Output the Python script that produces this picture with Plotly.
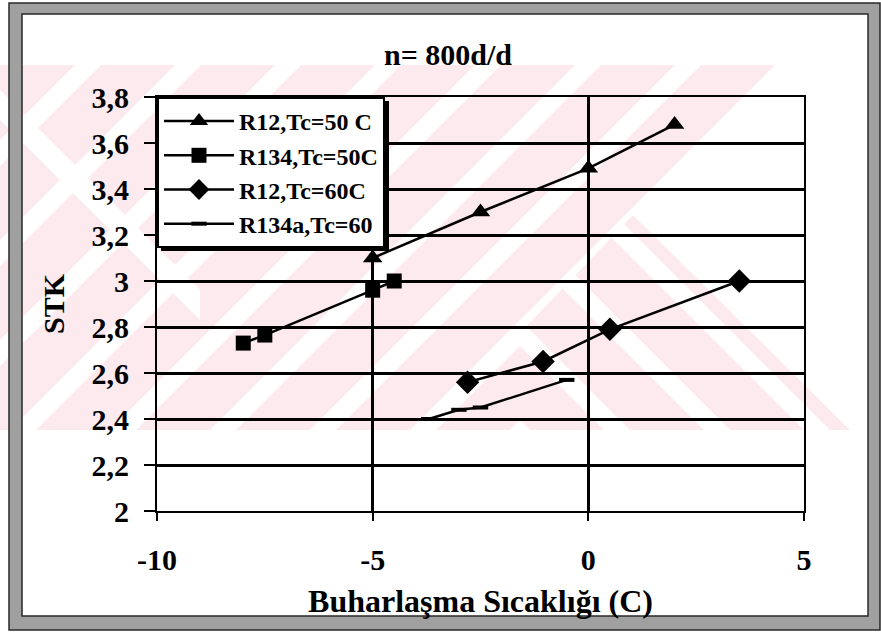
import plotly.graph_objects as go

# ---- figure geometry (pixels) ----
W, H = 881, 632
ML, MR, MT, MB = 157, 77, 97, 121

# ---- data ----
x_r12_50 = [-5, -2.5, 0, 2]
y_r12_50 = [3.10, 3.30, 3.49, 3.68]

x_r134_50 = [-8, -7.5, -5, -4.5]
y_r134_50 = [2.73, 2.765, 2.96, 3.00]

x_r12_60 = [-2.8, -1.05, 0.5, 3.5]
y_r12_60 = [2.56, 2.65, 2.79, 3.00]

x_r134a_60 = [-3.7, -3.0, -2.5, -0.5]
y_r134a_60 = [2.40, 2.44, 2.45, 2.57]

series_names = ["R12,Tc=50 C", "R134,Tc=50C", "R12,Tc=60C", "R134a,Tc=60"]

x_tickvals = [-10, -5, 0, 5]
x_ticktext = ["-10", "-5", "0", "5"]
y_tickvals = [2, 2.2, 2.4, 2.6, 2.8, 3, 3.2, 3.4, 3.6, 3.8]
y_ticktext = ["2", "2,2", "2,4", "2,6", "2,8", "3", "3,2", "3,4", "3,6", "3,8"]

FONT = "Liberation Serif, Times New Roman, serif"
PINK = "rgb(253,234,238)"


# ---- helpers for decorative shapes drawn in pixel space ----
def to_paper(pts):
    pw = W - ML - MR
    ph = H - MT - MB
    return [((x - ML) / pw, 1 - (y - MT) / ph) for x, y in pts]


def path_of(pts):
    pp = to_paper(pts)
    return "M" + " L".join(f"{x:.5f},{y:.5f}" for x, y in pp) + " Z"


def _cross(a, b, p):
    return (b[0] - a[0]) * (p[1] - a[1]) - (b[1] - a[1]) * (p[0] - a[0])


def clip_convex(subject, clipper):
    n = len(clipper)
    area = sum(clipper[i][0] * clipper[(i + 1) % n][1] - clipper[(i + 1) % n][0] * clipper[i][1]
               for i in range(n))
    sgn = 1 if area > 0 else -1
    out = list(subject)
    for i in range(n):
        a, b = clipper[i], clipper[(i + 1) % n]
        inp, out = out, []
        if not inp:
            break
        for j in range(len(inp)):
            cur, prev = inp[j], inp[j - 1]
            sc, sp = sgn * _cross(a, b, cur), sgn * _cross(a, b, prev)
            if sc >= 0:
                if sp < 0:
                    t = sp / (sp - sc)
                    out.append((prev[0] + t * (cur[0] - prev[0]), prev[1] + t * (cur[1] - prev[1])))
                out.append(cur)
            elif sp >= 0:
                t = sp / (sp - sc)
                out.append((prev[0] + t * (cur[0] - prev[0]), prev[1] + t * (cur[1] - prev[1])))
    return out


def poly_shape(pts, color, layer="below"):
    return dict(type="path", xref="paper", yref="paper", path=path_of(pts),
                fillcolor=color, line=dict(width=0), layer=layer)


def slash_stripe(c, w, y0, y1):
    # band between the lines x + y = c and x + y = c + w
    return [(c - y0, y0), (c + w - y0, y0), (c + w - y1, y1), (c - y1, y1)]


def backslash_stripe(d, w, y0, y1):
    # band between the lines x - y = d and x - y = d + w
    return [(d + y0, y0), (d + w + y0, y0), (d + w + y1, y1), (d + y1, y1)]


shapes = []

# background watermark band
BT, BB = 65, 430
band = [(0, BT), (W, BT), (W, BB), (0, BB)]
shapes.append(poly_shape(band, PINK))
for c in range(853 - 100 * 8, 853 + 100 * 6, 100):
    s = clip_convex(slash_stripe(c - 13, 26, BT - 5, BB + 5), band)
    if len(s) >= 3:
        shapes.append(poly_shape(s, "white"))

# lower right arm with reversed stripes
arm = [(520, BB), (520, 333), (633, 215), (850, BB)]
shapes.append(poly_shape(arm, PINK))
for d in range(187 - 100 * 2, 187 + 100 * 4, 100):
    s = clip_convex(backslash_stripe(d - 13, 26, BT - 5, BB + 5), arm)
    if len(s) >= 3:
        shapes.append(poly_shape(s, "white"))

# open wedge on the right
shapes.append(poly_shape([(777, BT), (W, BT), (W, BB), (850, BB), (633, 215)], "white"))

# crossing stripe on the left
left_box = [(0, BT), (200, BT), (200, BB), (0, BB)]
s = clip_convex(backslash_stripe(-120, 30, BT - 5, BB + 5), left_box)
if len(s) >= 3:
    shapes.append(poly_shape(s, "white"))

# legend shadow
LG_R, LG_B = 385, 247
shapes.append(poly_shape([(161, 101), (LG_R + 4, 101), (LG_R + 4, LG_B + 4), (161, LG_B + 4)],
                         "black", layer="above"))

# outer grey frame
FRAME = "rgb(160,160,160)"
OL, OT, OR, OB = 9, 3, 880, 630
IL, IT, IR, IB = 22, 14, 868, 616
for pts in ([(OL, OT), (OR, OT), (OR, IT), (OL, IT)],
            [(OL, IB), (OR, IB), (OR, OB), (OL, OB)],
            [(OL, OT), (IL, OT), (IL, OB), (OL, OB)],
            [(IR, OT), (OR, OT), (OR, OB), (IR, OB)]):
    shapes.append(poly_shape(pts, FRAME, layer="above"))
for pts in ([(OL, OT), (OR, OT), (OR, OB), (OL, OB)],
            [(IL, IT), (IR, IT), (IR, IB), (IL, IB)]):
    shapes.append(dict(type="path", xref="paper", yref="paper", path=path_of(pts),
                       line=dict(color="rgb(40,40,40)", width=1.5), layer="above"))

# ---- traces ----
fig = go.Figure()
line = dict(color="black", width=2.5)
fig.add_trace(go.Scatter(x=x_r12_50, y=y_r12_50, mode="lines+markers", name=series_names[0],
                         line=line, marker=dict(symbol="triangle-up", size=17, color="black")))
fig.add_trace(go.Scatter(x=x_r134_50, y=y_r134_50, mode="lines+markers", name=series_names[1],
                         line=line, marker=dict(symbol="square", size=15, color="black")))
fig.add_trace(go.Scatter(x=x_r12_60, y=y_r12_60, mode="lines+markers", name=series_names[2],
                         line=line, marker=dict(symbol="diamond", size=18, color="black")))
fig.add_trace(go.Scatter(x=x_r134a_60, y=y_r134a_60, mode="lines+markers", name=series_names[3],
                         line=line,
                         marker=dict(symbol="line-ew", size=11, color="black",
                                     line=dict(color="black", width=4))))

axis_common = dict(
    showgrid=True, gridcolor="black", gridwidth=2.5,
    showline=True, linecolor="black", linewidth=2, mirror=True,
    ticks="outside", tickcolor="black", tickwidth=1.5,
    zeroline=False, fixedrange=True,
    tickfont=dict(family=FONT, size=30, color="black", weight="bold"),
)

fig.update_layout(
    width=W, height=H,
    margin=dict(l=ML, r=MR, t=MT, b=MB, pad=0),
    paper_bgcolor="white",
    plot_bgcolor="rgba(0,0,0,0)",
    separators=",.",
    font=dict(family=FONT, color="black"),
    title=dict(text="n= 800d/d", x=448 / W, xanchor="center", y=1 - 54 / H, yanchor="middle",
               font=dict(family=FONT, size=30, color="black", weight="bold")),
    xaxis=dict(range=[-10, 5], tickvals=x_tickvals, ticktext=x_ticktext, ticklen=8,
               ticklabelstandoff=13,
               title=dict(text="Buharlaşma Sıcaklığı (C)", standoff=15,
                          font=dict(family=FONT, size=32, color="black", weight="bold")),
               **axis_common),
    yaxis=dict(range=[2, 3.8], tickvals=y_tickvals, ticktext=y_ticktext, ticklen=11,
               ticklabelstandoff=9,
               title=dict(text="STK", standoff=18,
                          font=dict(family=FONT, size=30, color="black", weight="bold")),
               **axis_common),
    legend=dict(x=0, y=1, xanchor="left", yanchor="top",
                bgcolor="white", bordercolor="black", borderwidth=2,
                itemwidth=70, tracegroupgap=0,
                font=dict(family=FONT, size=24, color="black", weight="bold")),
    shapes=shapes,
    showlegend=True,
)

fig.write_html("out.html")
